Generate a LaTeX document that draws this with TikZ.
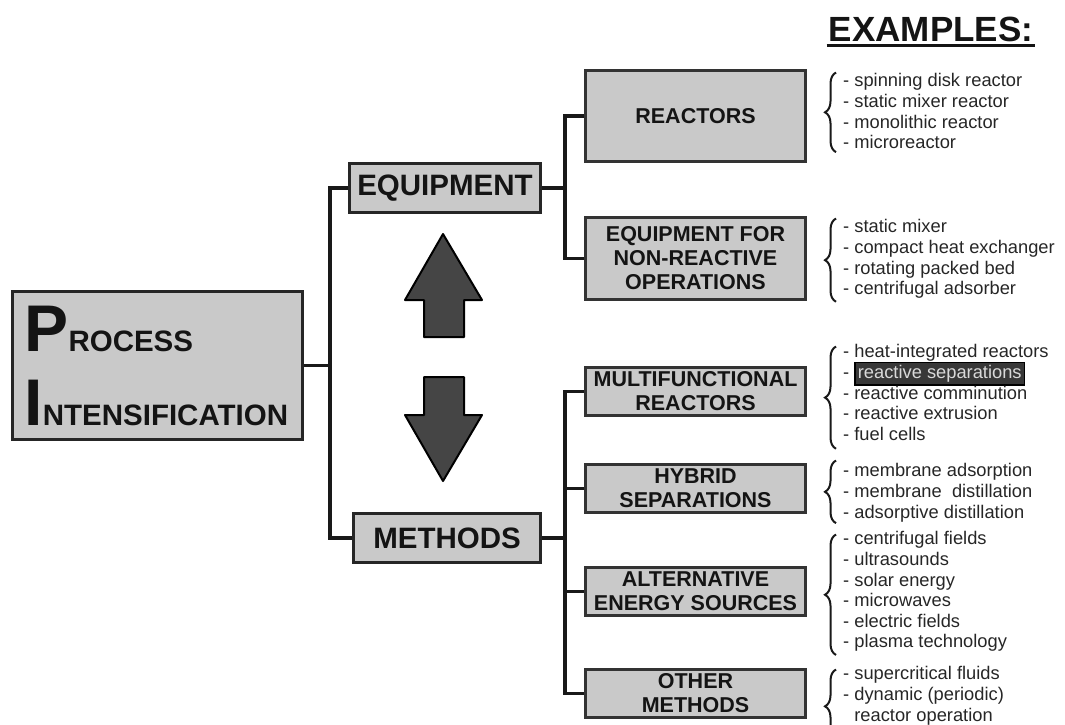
\documentclass[tikz,border=0pt]{standalone}
\usepackage{fontspec}
\setmainfont{Liberation Sans}
\usetikzlibrary{decorations.pathreplacing}

\begin{document}
\begin{tikzpicture}[x=1pt, y=-1pt]
    \tikzstyle{box_pi} = [draw=black!85, line width=3pt, fill=black!21, minimum width=290pt, minimum height=148pt, text width=266pt, align=left, text=black!92, font=\bfseries\fontsize{29.5}{74}\selectfont]
    \tikzstyle{box_main} = [draw=black!85, line width=3pt, fill=black!21, minimum height=49pt, inner sep=2pt, text=black!92, font=\bfseries\fontsize{29.5}{30}\selectfont]
    \tikzstyle{box_sub} = [draw=black!80, line width=2.6pt, fill=black!21, minimum width=220pt, inner sep=2pt, align=center, text=black!92, font=\bfseries\fontsize{21.5}{24}\selectfont]
    \tikzstyle{line_conn} = [draw=black!90, line width=3.2pt]
    \tikzstyle{arrow_fat} = [draw=black, line width=2pt, fill=black!73, line join=round]
    \tikzstyle{ex_list} = [anchor=north west, inner sep=0pt, align=left, text=black!85, font=\fontsize{18.3}{20.6}\selectfont]
    \tikzstyle{ex_brace} = [decorate, decoration={brace, amplitude=11pt}, line width=2pt, black!90]

    \useasboundingbox (0,0) rectangle (1065,724);

    \node[box_pi] (pi) at (157.5,365.5) {{\fontsize{66}{74}\selectfont P}ROCESS\\{\fontsize{66}{74}\selectfont I}NTENSIFICATION};

    \node[box_main, minimum width=191pt] (equip) at (445,188) {EQUIPMENT};
    \node[box_main, minimum width=187pt] (meth) at (447,538) {METHODS};

    \node[box_sub, minimum height=91pt] (react) at (695.5,116) {REACTORS};
    \node[box_sub, minimum height=82pt] (eqfor) at (695.5,258.5) {EQUIPMENT FOR\\NON-REACTIVE\\OPERATIONS};
    \node[box_sub, minimum height=48pt] (multi) at (695.5,391.5) {MULTIFUNCTIONAL\\REACTORS};
    \node[box_sub, minimum height=48pt] (hybrid) at (695.5,488.5) {HYBRID\\SEPARATIONS};
    \node[box_sub, minimum height=48pt] (alter) at (695.5,591.5) {ALTERNATIVE\\ENERGY SOURCES};
    \node[box_sub, minimum height=48pt] (other) at (695.5,693.5) {OTHER\\METHODS};

    % ---------------------------------------

    \coordinate (jL) at (330,365.5);
    \coordinate (jE) at (565,188);
    \coordinate (jM) at (565,538);

    \draw[line_conn] (pi.east) -- (jL);
    \draw[line_conn] (equip.west) -| (jL) |- (meth.west);
    \draw[line_conn] (equip.east) -- (jE);
    \draw[line_conn] (react.west) -| (jE) |- (eqfor.west);
    \draw[line_conn] (meth.east) -- (jM);
    \draw[line_conn] (multi.west) -| (jM) |- (other.west);
    \draw[line_conn] (hybrid.west) -- (hybrid.west -| jM);
    \draw[line_conn] (alter.west) -- (alter.west -| jM);

    % ---------------------------------------

    \draw[arrow_fat] (443,234) -- (482,300) -- (464,300) -- (464,337) -- (424,337) -- (424,300) -- (405,300) -- cycle;
    \draw[arrow_fat] (443,481) -- (482,415) -- (464,415) -- (464,377) -- (424,377) -- (424,415) -- (405,415) -- cycle;

    % ---------------------------------------

    \node[font=\bfseries\fontsize{35}{35}\selectfont, inner sep=0pt, anchor=base, text=black!92] (exTitle) at (931,41) {EXAMPLES:};
    \draw[line width=2.8pt, black!92] ([xshift=-2pt,yshift=-4pt]exTitle.south west) -- ([xshift=2pt,yshift=-4pt]exTitle.south east);

    \node[ex_list] (exReact) at (843,73.5) {- spinning disk reactor\\- static mixer reactor\\- monolithic reactor\\- microreactor};
    \node[ex_list] (exEqfor) at (843,219.5) {- static mixer\\- compact heat exchanger\\- rotating packed bed\\- centrifugal adsorber};
    \node[ex_list] (exMulti) at (843,344.5) {- heat-integrated reactors\\- \smash{\setlength\fboxsep{2pt}\setlength\fboxrule{1.5pt}\fcolorbox{black}{black!78}{\color{white!85!black}reactive separations}}\\- reactive comminution\\- reactive extrusion\\- fuel cells};
    \node[ex_list] (exHybrid) at (843,463.5) {- membrane adsorption\\- membrane~ distillation\\- adsorptive distillation};
    \node[ex_list] (exAlter) at (843,531.5) {- centrifugal fields\\- ultrasounds\\- solar energy\\- microwaves\\- electric fields\\- plasma technology};
    \node[ex_list] (exOther) at (843,666.5) {- supercritical fluids\\- dynamic (periodic)\\\phantom{- }reactor operation};

    \draw[ex_brace] ([xshift=-7pt,yshift=-3pt]exReact.south west) -- ([xshift=-7pt,yshift=1pt]exReact.north west);
    \draw[ex_brace] ([xshift=-7pt,yshift=-3pt]exEqfor.south west) -- ([xshift=-7pt,yshift=1pt]exEqfor.north west);
    \draw[ex_brace] ([xshift=-7pt,yshift=-8pt]exMulti.south west) -- ([xshift=-7pt,yshift=-2pt]exMulti.north west);
    \draw[ex_brace] ([xshift=-7pt,yshift=-1pt]exHybrid.south west) -- ([xshift=-7pt,yshift=3pt]exHybrid.north west);
    \draw[ex_brace] ([xshift=-7pt,yshift=-3pt]exAlter.south west) -- ([xshift=-7pt,yshift=-3pt]exAlter.north west);
    \draw[ex_brace] ([xshift=-7pt,yshift=-18pt]exOther.south west) -- ([xshift=-7pt,yshift=-3pt]exOther.north west);

\end{tikzpicture}
\end{document}
